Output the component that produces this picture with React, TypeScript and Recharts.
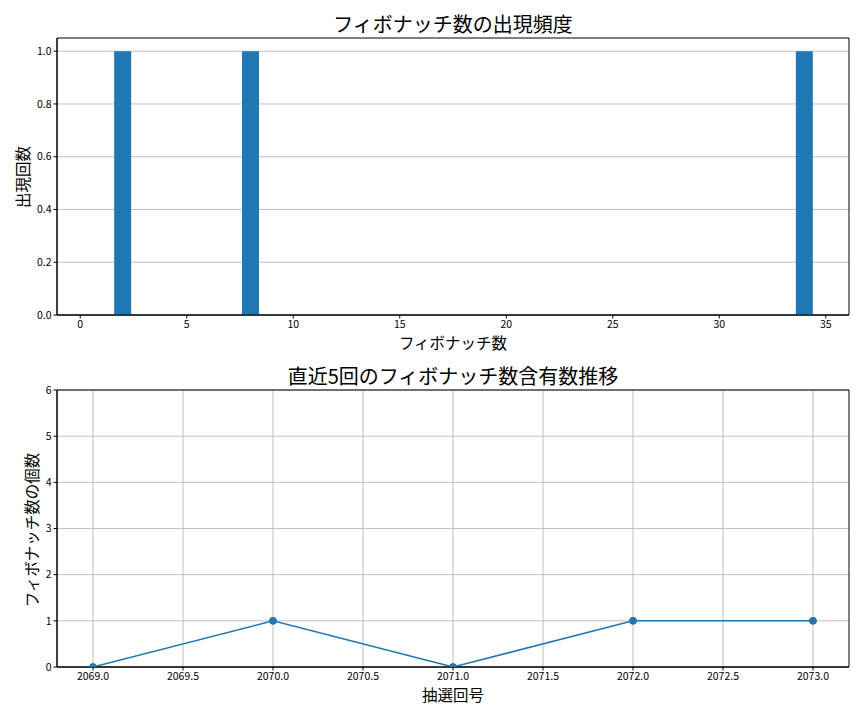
import React from "react";
import {
  BarChart,
  Bar,
  LineChart,
  Line,
  XAxis,
  YAxis,
  CartesianGrid,
  ReferenceArea,
} from "recharts";

// ---- data ----
const fibNumbers = [1, 2, 3, 5, 8, 13, 21, 34];
const fibCounts = [0, 1, 0, 0, 1, 0, 0, 1];
const fibXTicks = [0, 5, 10, 15, 20, 25, 30, 35];
const fibYTicks = [0, 0.2, 0.4, 0.6, 0.8, 1.0];

const drawNumbers = [2069, 2070, 2071, 2072, 2073];
const fibPerDraw = [0, 1, 0, 1, 1];
const drawXTicks = [2069, 2069.5, 2070, 2070.5, 2071, 2071.5, 2072, 2072.5, 2073];
const drawYTicks = [0, 1, 2, 3, 4, 5, 6];

const topTitle = "フィボナッチ数の出現頻度";
const topXLabel = "フィボナッチ数";
const topYLabel = "出現回数";
const bottomTitle = "直近5回のフィボナッチ数含有数推移";
const bottomXLabel = "抽選回号";
const bottomYLabel = "フィボナッチ数の個数";

const fibData = fibNumbers.map((n, i) => ({ num: n, count: fibCounts[i] }));
const drawData = drawNumbers.map((d, i) => ({ draw: d, count: fibPerDraw[i] }));

const FONT = '"Noto Sans CJK JP", "Noto Sans", sans-serif';
const BLUE = "#1f77b4";
const GRID = "#b0b0b0";
const tickStyle = { fontSize: 10.5, fill: "#000", fontFamily: FONT };

const topXDomain: [number, number] = [-1.09, 36.09];
const topYDomain: [number, number] = [0, 1.05];
const botXDomain: [number, number] = [2068.8, 2073.2];
const botYDomain: [number, number] = [0, 6];

const textBase: React.CSSProperties = {
  position: "absolute",
  fontFamily: FONT,
  color: "#000",
  whiteSpace: "nowrap",
  lineHeight: 1,
};

function CenterText({
  x,
  y,
  size,
  text,
  rotate,
}: {
  x: number;
  y: number;
  size: number;
  text: string;
  rotate?: boolean;
}) {
  return (
    <div
      style={{
        ...textBase,
        left: x,
        top: y,
        fontSize: size,
        transform: `translate(-50%, -50%)${rotate ? " rotate(-90deg)" : ""}`,
      }}
    >
      {text}
    </div>
  );
}

export default function App() {
  return (
    <div
      style={{
        position: "absolute",
        left: 0,
        top: 0,
        width: 864,
        height: 720,
        background: "#fff",
        overflow: "hidden",
      }}
    >
      <div style={{ position: "absolute", left: 0, top: 0 }}>
        <BarChart
          width={864}
          height={360}
          data={fibData}
          margin={{ top: 38, right: 15, bottom: 25, left: 0 }}
        >
          <CartesianGrid
            vertical={false}
            stroke={GRID}
            strokeWidth={0.8}
            horizontalValues={fibYTicks}
          />
          <XAxis
            dataKey="num"
            type="number"
            domain={topXDomain}
            allowDataOverflow
            ticks={fibXTicks}
            interval={0}
            height={20}
            tick={tickStyle}
            tickSize={3.5}
            tickMargin={2}
            stroke="#000"
            axisLine={{ stroke: "#000" }}
            tickLine={{ stroke: "#000" }}
          />
          <YAxis
            type="number"
            domain={topYDomain}
            allowDataOverflow
            ticks={fibYTicks}
            interval={0}
            width={57}
            tick={tickStyle}
            tickFormatter={(v: number) => v.toFixed(1)}
            tickSize={3.5}
            tickMargin={2}
            axisLine={{ stroke: "#000" }}
            tickLine={{ stroke: "#000" }}
          />
          <Bar
            dataKey="count"
            fill={BLUE}
            barSize={17}
            isAnimationActive={false}
          />
          <ReferenceArea
            x1={topXDomain[0]}
            x2={topXDomain[1]}
            y1={topYDomain[0]}
            y2={topYDomain[1]}
            fill="none"
            stroke="#000"
            strokeWidth={1}
            fillOpacity={0}
          />
        </BarChart>
      </div>

      <div style={{ position: "absolute", left: 0, top: 360 }}>
        <LineChart
          width={864}
          height={360}
          data={drawData}
          margin={{ top: 30, right: 15, bottom: 33, left: 0 }}
        >
          <CartesianGrid
            stroke={GRID}
            strokeWidth={0.8}
            horizontalValues={drawYTicks}
            verticalValues={drawXTicks}
          />
          <XAxis
            dataKey="draw"
            type="number"
            domain={botXDomain}
            allowDataOverflow
            ticks={drawXTicks}
            interval={0}
            height={20}
            tick={tickStyle}
            tickFormatter={(v: number) => v.toFixed(1)}
            tickSize={3.5}
            tickMargin={2}
            axisLine={{ stroke: "#000" }}
            tickLine={{ stroke: "#000" }}
          />
          <YAxis
            type="number"
            domain={botYDomain}
            allowDataOverflow
            ticks={drawYTicks}
            interval={0}
            width={57}
            tick={tickStyle}
            tickSize={3.5}
            tickMargin={2}
            axisLine={{ stroke: "#000" }}
            tickLine={{ stroke: "#000" }}
          />
          <ReferenceArea
            x1={botXDomain[0]}
            x2={botXDomain[1]}
            y1={botYDomain[0]}
            y2={botYDomain[1]}
            fill="none"
            stroke="#000"
            strokeWidth={1}
            fillOpacity={0}
          />
          <Line
            dataKey="count"
            stroke={BLUE}
            strokeWidth={1.5}
            dot={{ r: 3.5, fill: BLUE, stroke: BLUE, strokeWidth: 1 }}
            isAnimationActive={false}
          />
        </LineChart>
      </div>

      <CenterText x={453} y={24} size={20} text={topTitle} />
      <CenterText x={453} y={343} size={15.5} text={topXLabel} />
      <CenterText x={23} y={177} size={15.5} text={topYLabel} rotate />

      <CenterText x={453} y={376} size={20} text={bottomTitle} />
      <CenterText x={453} y={695} size={15.5} text={bottomXLabel} />
      <CenterText x={32} y={530} size={15.5} text={bottomYLabel} rotate />
    </div>
  );
}
